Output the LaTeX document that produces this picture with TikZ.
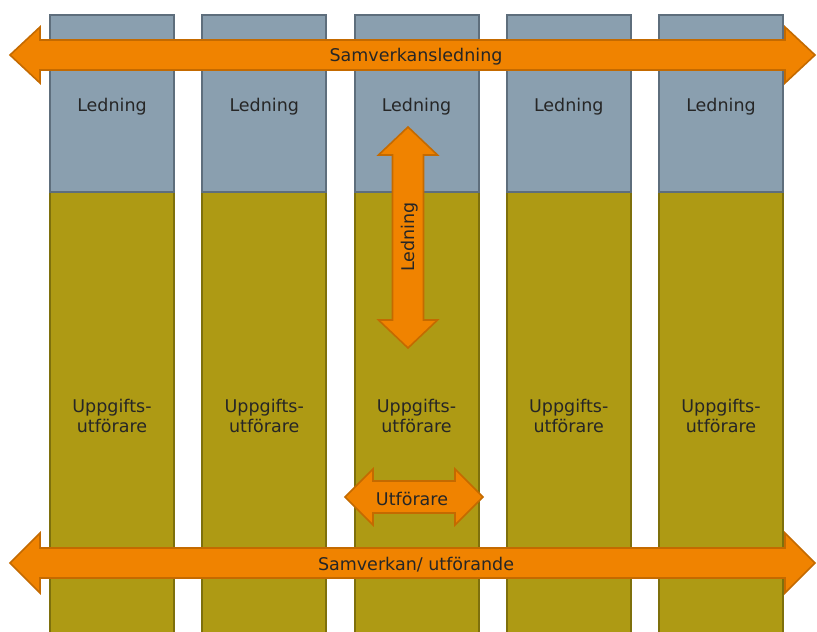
\documentclass[tikz,border=0pt]{standalone}
\usepackage{fontspec}
\setmainfont{DejaVu Sans}
\definecolor{greyf}{HTML}{8A9FAF}
\definecolor{greyd}{HTML}{5E6E7C}
\definecolor{olivef}{HTML}{AE9A14}
\definecolor{olived}{HTML}{7E700C}
\definecolor{orf}{HTML}{F08300}
\definecolor{ord}{HTML}{C46A00}
\tikzset{
  topbox/.style={fill=greyf,draw=greyd,line width=2pt},
  botbox/.style={fill=olivef,draw=olived,line width=2pt},
  arr/.style={fill=orf,draw=ord,line width=1.6pt,line join=miter},
  lbl/.style={font=\fontsize{17.5}{20}\selectfont,text=black!85,align=center,inner sep=0pt}
}
\begin{document}
\begin{tikzpicture}[x=1pt,y=-1pt]
\useasboundingbox (0,0) rectangle (817,632);
\foreach \i in {1,...,5}{
  \pgfmathsetmacro{\xl}{50+152.25*(\i-1)}
  \pgfmathsetmacro{\xr}{\xl+124}
  \pgfmathsetmacro{\xc}{\xl+62}
  \draw[botbox] (\xl,192) rectangle (\xr,645);
  \draw[topbox] (\xl,15) rectangle (\xr,192);
  \node[lbl] (led\i) at (\xc,107) {Ledning};
  \node[lbl] (upp\i) at (\xc,416) {Uppgifts-\\utförare};
}
% top horizontal arrow
\draw[arr] (10,55) -- (40,27) -- (40,40) -- (785,40) -- (785,27) -- (815,55)
  -- (785,83) -- (785,70) -- (40,70) -- (40,83) -- cycle;
\node[lbl] (samled) at (416,57) {Samverkansledning};
% bottom horizontal arrow
\draw[arr] (10,563) -- (40,533) -- (40,548) -- (785,548) -- (785,533) -- (815,563)
  -- (785,593) -- (785,578) -- (40,578) -- (40,593) -- cycle;
\node[lbl] (samutf) at (416,565) {Samverkan/ utförande};
% vertical arrow
\draw[arr] (408,127) -- (437.5,155) -- (423.5,155) -- (423.5,320) -- (437.5,320) -- (408,348)
  -- (378.5,320) -- (392.5,320) -- (392.5,155) -- (378.5,155) -- cycle;
\node[lbl,rotate=90] (ledv) at (410,237) {Ledning};
% Utförare arrow
\draw[arr] (345,497) -- (373,469) -- (373,481) -- (455,481) -- (455,469) -- (483,497)
  -- (455,525) -- (455,513) -- (373,513) -- (373,525) -- cycle;
\node[lbl] (utf) at (412,499) {Utförare};
\end{tikzpicture}
\end{document}
